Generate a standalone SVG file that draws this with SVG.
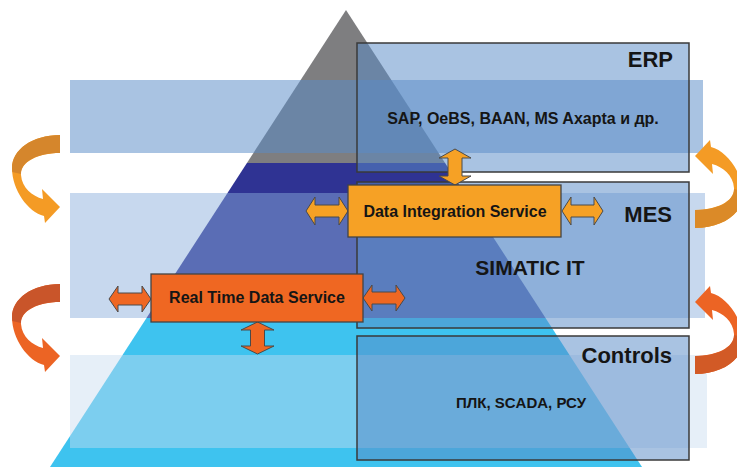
<svg xmlns="http://www.w3.org/2000/svg" width="737" height="467" viewBox="0 0 737 467">
<defs>
<style>
.t{font-family:"Liberation Sans",Arial,sans-serif;font-weight:bold;fill:#151515}
.ttl{font-size:22px;text-anchor:end}
.sub{text-anchor:middle}
.box{fill:rgb(90,140,200);fill-opacity:0.52;stroke:#3a3a3a;stroke-width:1.5}
.svc{stroke:#444;stroke-width:1.3}
.or{fill:#f6a125}
.rd{fill:#ef6722}
.dar{stroke:#4a4a4a;stroke-width:1}
</style>
<clipPath id="pyr"><polygon points="346,10 642,467 50,467"/></clipPath>
<path id="curve" d="M60,135 C32,135 12,150 12,168 C12,190 28,212 44,216 L45,223 L60,207 L42,189 L43,199 C32,196 22,188 21,175 C20,162 38,153 60,153 Z"/>
<path id="curveDark" d="M60,135 C32,135 12,150 12,168 C12,170 12.2,171 12.4,172 L21,174 C21,161 38,153 60,153 Z"/>
</defs>
<rect width="737" height="467" fill="#ffffff"/>

<g id="pyramid" clip-path="url(#pyr)">
<rect x="0" y="0" width="737" height="163" fill="#7e7e80"/>
<rect x="0" y="163" width="737" height="155" fill="#2f3393"/>
<rect x="0" y="318" width="737" height="149" fill="#3ec3ef"/>
</g>

<g id="bands">
<rect x="70" y="80" width="633" height="73" fill="rgb(90,140,200)" fill-opacity="0.52"/>
<rect x="70" y="193" width="635" height="125" fill="rgb(137,174,220)" fill-opacity="0.48"/>
<rect x="70" y="355" width="637" height="93" fill="rgb(200,220,240)" fill-opacity="0.45"/>
</g>

<g id="erp">
<rect class="box" x="357" y="43" width="332" height="129"/>
<text class="t ttl" x="673" y="67">ERP</text>
<text class="t sub" x="523" y="124" font-size="16">SAP, OeBS, BAAN, MS Axapta и др.</text>
</g>

<g id="mes">
<rect class="box" x="357" y="182" width="332" height="146"/>
<text class="t ttl" x="672" y="222">MES</text>
<text class="t sub" x="530" y="275" font-size="21">SIMATIC IT</text>
</g>

<g id="controls">
<rect class="box" x="357" y="336" width="332" height="124"/>
<text class="t ttl" x="672" y="363">Controls</text>
<text class="t sub" x="521" y="408" font-size="15">ПЛК, SCADA, РСУ</text>
</g>

<g id="cycles">
<use href="#curve" fill="#f49b25"/>
<use href="#curveDark" fill="#d5862c"/>
<g transform="translate(0,149)">
<use href="#curve" fill="#ec6424"/>
<use href="#curveDark" fill="#c9552a"/>
</g>
<g transform="translate(755,363) scale(-1,-1)">
<use href="#curve" fill="#f49b25"/>
<use href="#curveDark" fill="#db8a28"/>
</g>
<g transform="translate(755,509) scale(-1,-1)">
<use href="#curve" fill="#ec6424"/>
<use href="#curveDark" fill="#d25a26"/>
</g>
</g>

<g id="connectors">
<path class="or dar" d="M306,211 L315,197 L315,205 L339,205 L339,197 L348,211 L339,225 L339,217 L315,217 L315,225 Z"/>
<path class="or dar" d="M562,211 L571,197 L571,205 L594,205 L594,197 L603,211 L594,225 L594,217 L571,217 L571,225 Z"/>
<path class="or dar" d="M455,149 L471,158 L462,158 L462,176 L471,176 L455,185 L439,176 L448,176 L448,158 L439,158 Z"/>
<path class="rd dar" d="M109,299 L118,286 L118,293 L142,293 L142,286 L151,299 L142,312 L142,305 L118,305 L118,312 Z"/>
<path class="rd dar" d="M363,298 L372,285 L372,292 L396,292 L396,285 L405,298 L396,311 L396,304 L372,304 L372,311 Z"/>
<path class="rd dar" d="M257.5,322 L274,330 L264.5,330 L264.5,346 L274,346 L257.5,354 L241,346 L250.5,346 L250.5,330 L241,330 Z"/>
</g>

<g id="dis">
<rect class="or svc" x="348" y="185" width="213" height="52"/>
<text class="t sub" x="455" y="217" font-size="16">Data Integration Service</text>
</g>

<g id="rtds">
<rect class="rd svc" x="151" y="274" width="212" height="48"/>
<text class="t sub" x="257" y="303" font-size="16">Real Time Data Service</text>
</g>
</svg>
